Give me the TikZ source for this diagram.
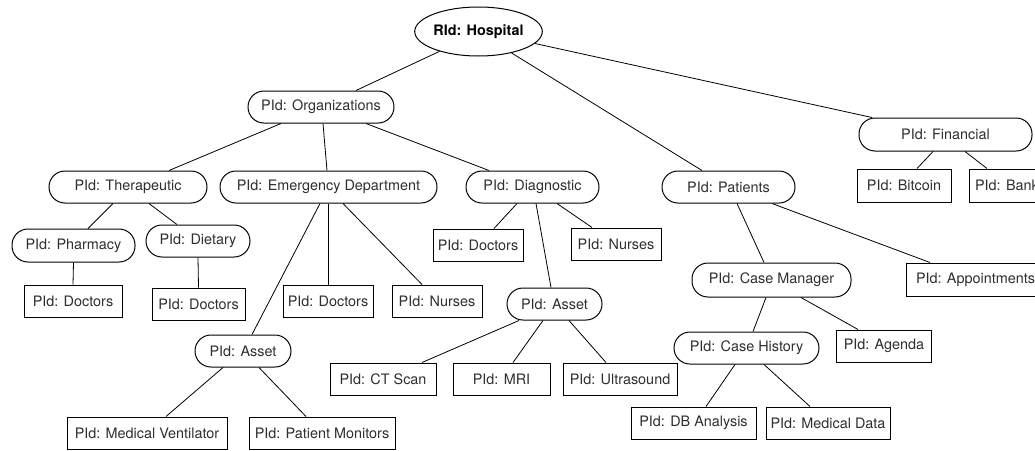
\documentclass[tikz,border=0pt]{standalone}
\usepackage{fontspec}
\setmainfont{TeX Gyre Heros}
\usetikzlibrary{shapes.geometric}
\begin{document}
\begin{tikzpicture}[x=1pt,y=-1pt,
  every node/.style={font=\fontsize{14.4}{17}\selectfont, text=black!82, inner sep=0pt, line width=1pt},
  root/.style={draw, ellipse, minimum width=127pt, minimum height=49pt, font=\fontsize{14.4}{17}\selectfont\bfseries, text=black},
  pill/.style={draw, rectangle, rounded corners=16pt, minimum height=32pt},
  leaf/.style={draw, rectangle, minimum height=32pt},
  link/.style={line width=0.8pt}]
\useasboundingbox (0,0) rectangle (1035,450);

% root
\node[root] (hosp) at (478.5,31.5) {RId: Hospital};

% organizations branch
\node[pill, minimum width=146pt] (org) at (321,107) {PId: Organizations};
\node[pill, minimum width=158pt] (ther) at (128,187) {PId: Therapeutic};
\node[pill, minimum width=217pt] (ed) at (328.5,187) {PId: Emergency Department};
\node[pill, minimum width=133pt] (diag) at (532.5,187) {PId: Diagnostic};

\node[pill, minimum width=123pt, minimum height=33pt] (pharm) at (73.5,245.5) {PId: Pharmacy};
\node[pill, minimum width=104pt] (diet) at (198,241) {PId: Dietary};
\node[leaf, minimum width=98pt] (docA) at (73,301) {PId: Doctors};
\node[leaf, minimum width=93pt] (docB) at (198.5,304) {PId: Doctors};

\node[leaf, minimum width=90pt] (docC) at (328,301) {PId: Doctors};
\node[leaf, minimum width=90pt] (nurC) at (437,301) {PId: Nurses};
\node[pill, minimum width=96pt] (assetE) at (243,351) {PId: Asset};
\node[leaf, minimum width=160pt] (vent) at (147,433) {PId: Medical Ventilator};
\node[leaf, minimum width=146pt] (mon) at (322,433) {PId: Patient Monitors};

\node[leaf, minimum width=90pt] (docD) at (478,245) {PId: Doctors};
\node[leaf, minimum width=90pt] (nurD) at (616,244) {PId: Nurses};
\node[pill, minimum width=95pt] (assetD) at (554.5,304) {PId: Asset};
\node[leaf, minimum width=106pt] (ct) at (383,379) {PId: CT Scan};
\node[leaf, minimum width=97pt] (mri) at (501.5,379) {PId: MRI};
\node[leaf, minimum width=114pt] (ultra) at (620,379) {PId: Ultrasound};

% patients branch
\node[pill, minimum width=133pt] (pat) at (728.5,187) {PId: Patients};
\node[pill, minimum width=159pt, minimum height=34pt] (cm) at (771.5,280) {PId: Case Manager};
\node[leaf, minimum width=139pt, minimum height=33pt] (appt) at (975.5,279.5) {PId: Appointments};
\node[pill, minimum width=145pt] (ch) at (746.5,348) {PId: Case History};
\node[leaf, minimum width=95pt] (agenda) at (884,346) {PId: Agenda};
\node[leaf, minimum width=125pt] (db) at (693.5,423) {PId: DB Analysis};
\node[leaf, minimum width=124pt] (md) at (828,423) {PId: Medical Data};

% financial branch
\node[pill, minimum width=173pt, minimum height=33pt] (fin) at (945.5,134.5) {PId: Financial};
\node[leaf, minimum width=94pt, minimum height=33pt] (bitc) at (904,185.5) {PId: Bitcoin};
\node[leaf, minimum width=76pt, minimum height=33pt] (bank) at (1007,185.5) {PId: Bank};

% connectors
\draw[link] (hosp.207) -- ([xshift=35pt]org.north);
\draw[link] (hosp.327) -- ([xshift=-26.5pt]pat.north);
\draw[link] (hosp.348) -- ([xshift=-73.5pt]fin.north);

\draw[link] ([xshift=-40pt]org.south) -- ([xshift=41pt]ther.north);
\draw[link] ([xshift=2pt]org.south) -- ([xshift=-1.5pt]ed.north);
\draw[link] ([xshift=45pt]org.south) -- ([xshift=-43.5pt]diag.north);

\draw[link] ([xshift=-15pt]ther.south) -- ([xshift=14.5pt]pharm.north);
\draw[link] ([xshift=21pt]ther.south) -- ([xshift=-21pt]diet.north);
\draw[link] (pharm.south) -- (docA.north);
\draw[link] (diet.south) -- (docB.north);

\draw[link] ([xshift=-8.5pt]ed.south) -- ([xshift=9pt]assetE.north);
\draw[link] ([xshift=-0.5pt]ed.south) -- (docC.north);
\draw[link] ([xshift=14.5pt]ed.south) -- ([xshift=-15pt]nurC.north);
\draw[link] ([xshift=-20pt]assetE.south) -- ([xshift=19pt]vent.north);
\draw[link] ([xshift=16pt]assetE.south) -- ([xshift=-16pt]mon.north);

\draw[link] ([xshift=-15.5pt]diag.south) -- ([xshift=16pt]docD.north);
\draw[link] ([xshift=3.5pt]diag.south) -- ([xshift=-3.5pt]assetD.north);
\draw[link] ([xshift=24.5pt]diag.south) -- ([xshift=-24pt]nurD.north);
\draw[link] ([xshift=-35.5pt]assetD.south) -- ([xshift=39pt]ct.north);
\draw[link] ([xshift=-11.5pt]assetD.south) -- ([xshift=11.5pt]mri.north);
\draw[link] ([xshift=14.5pt]assetD.south) -- ([xshift=-14pt]ultra.north);

\draw[link] ([xshift=8.5pt]pat.south) -- ([xshift=-7.5pt]cm.north);
\draw[link] ([xshift=43.5pt]pat.south) -- ([xshift=-45.5pt]appt.north);
\draw[link] ([xshift=-5.5pt]cm.south) -- ([xshift=6.5pt]ch.north);
\draw[link] ([xshift=29.5pt]cm.south) -- ([xshift=-26pt]agenda.north);
\draw[link] ([xshift=-11.5pt]ch.south) -- ([xshift=12.5pt]db.north);
\draw[link] ([xshift=17.5pt]ch.south) -- ([xshift=-18pt]md.north);

\draw[link] ([xshift=-12.5pt]fin.south) -- ([xshift=13pt]bitc.north);
\draw[link] ([xshift=19.5pt]fin.south) -- ([xshift=-20pt]bank.north);
\end{tikzpicture}
\end{document}
